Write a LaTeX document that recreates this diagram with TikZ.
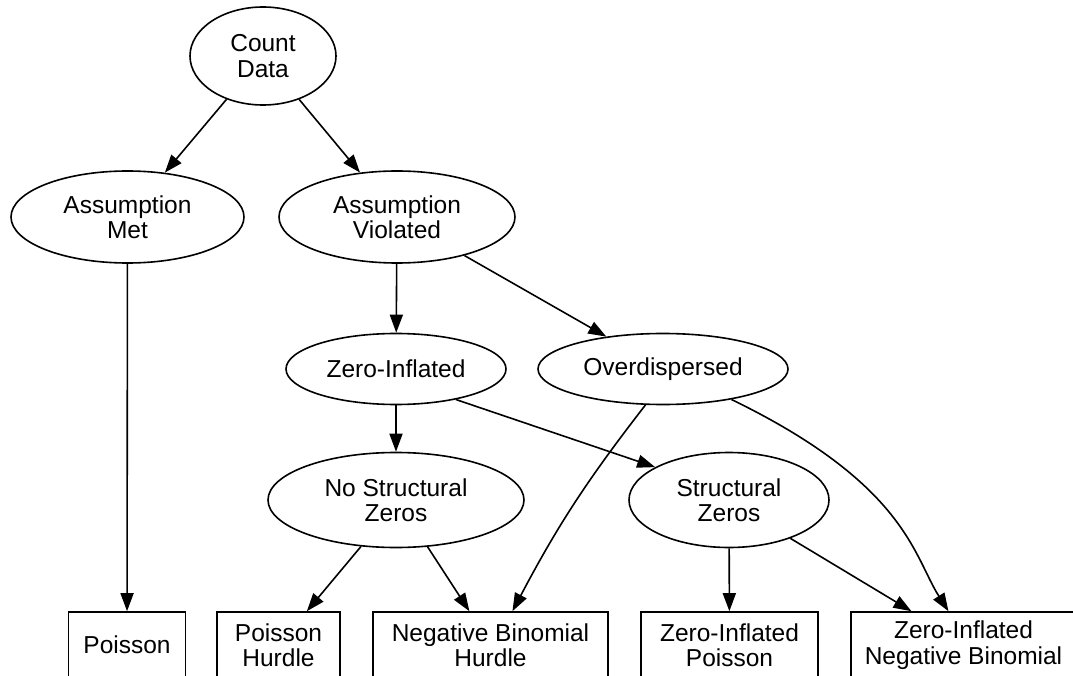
\documentclass[tikz,border=0pt]{standalone}
\usepackage{fontspec}
\setmainfont{Liberation Sans}
\usetikzlibrary{arrows.meta,shapes.geometric}
\begin{document}
\begin{tikzpicture}[x=1pt,y=-1pt,
  every node/.style={font=\fontsize{24.5}{25.5}\selectfont, align=center, inner sep=0pt, line width=1.6pt},
  ell/.style={draw, ellipse},
  box/.style={draw, rectangle, minimum height=66pt},
  arr/.style={draw, line width=1.6pt, -{Triangle[length=18pt,width=13pt]}}
]
\useasboundingbox (0,0) rectangle (1073,676);
\fill[white] (0,0) rectangle (1073,676);

\node[ell, minimum width=146pt, minimum height=98pt] (cd) at (263,56) {Count\\Data};
\node[ell, minimum width=233pt, minimum height=92pt] (am) at (127.5,217) {Assumption\\Met};
\node[ell, minimum width=236pt, minimum height=92pt] (av) at (397,217) {Assumption\\Violated};
\node[ell, minimum width=220pt, minimum height=71pt] (zi) at (396,369) {Zero-Inflated};
\node[ell, minimum width=250pt, minimum height=71pt] (od) at (663,369) {Overdispersed};
\node[ell, minimum width=256pt, minimum height=95pt] (nsz) at (396,500) {No Structural\\Zeros};
\node[ell, minimum width=200pt, minimum height=95pt] (sz) at (729,500) {Structural\\Zeros};

\node[box, minimum width=117pt] (poi) at (127,645) {Poisson};
\node[box, minimum width=123pt] (ph) at (278.5,645) {Poisson\\Hurdle};
\node[box, minimum width=235pt] (nbh) at (490.5,645) {Negative Binomial\\Hurdle};
\node[box, minimum width=177pt] (zip) at (729.5,645) {Zero-Inflated\\Poisson};
\node[box, minimum width=225pt] (zinb) at (963.5,645) {Zero-Inflated\\Negative Binomial};

\draw[arr] (cd) -- (am);
\draw[arr] (cd) -- (av);
\draw[arr] (am) -- (poi);
\draw[arr] (av) -- (zi);
\draw[arr] (av) -- (od);
\draw[arr] (zi) -- (nsz);
\draw[arr] (zi.-27) -- (sz.156);
\draw[arr] (od.-116) to[bend right=5] (nbh.57);
\draw[arr] (od.-24) .. controls +(175,85) and +(-35,-55) .. (zinb.114);
\draw[arr] (nsz.-127.5) -- (ph.50);
\draw[arr] (nsz.-56.6) -- (nbh.122);
\draw[arr] (sz) -- (zip);
\draw[arr] (sz.-32.6) -- (zinb.147.4);
\end{tikzpicture}
\end{document}
